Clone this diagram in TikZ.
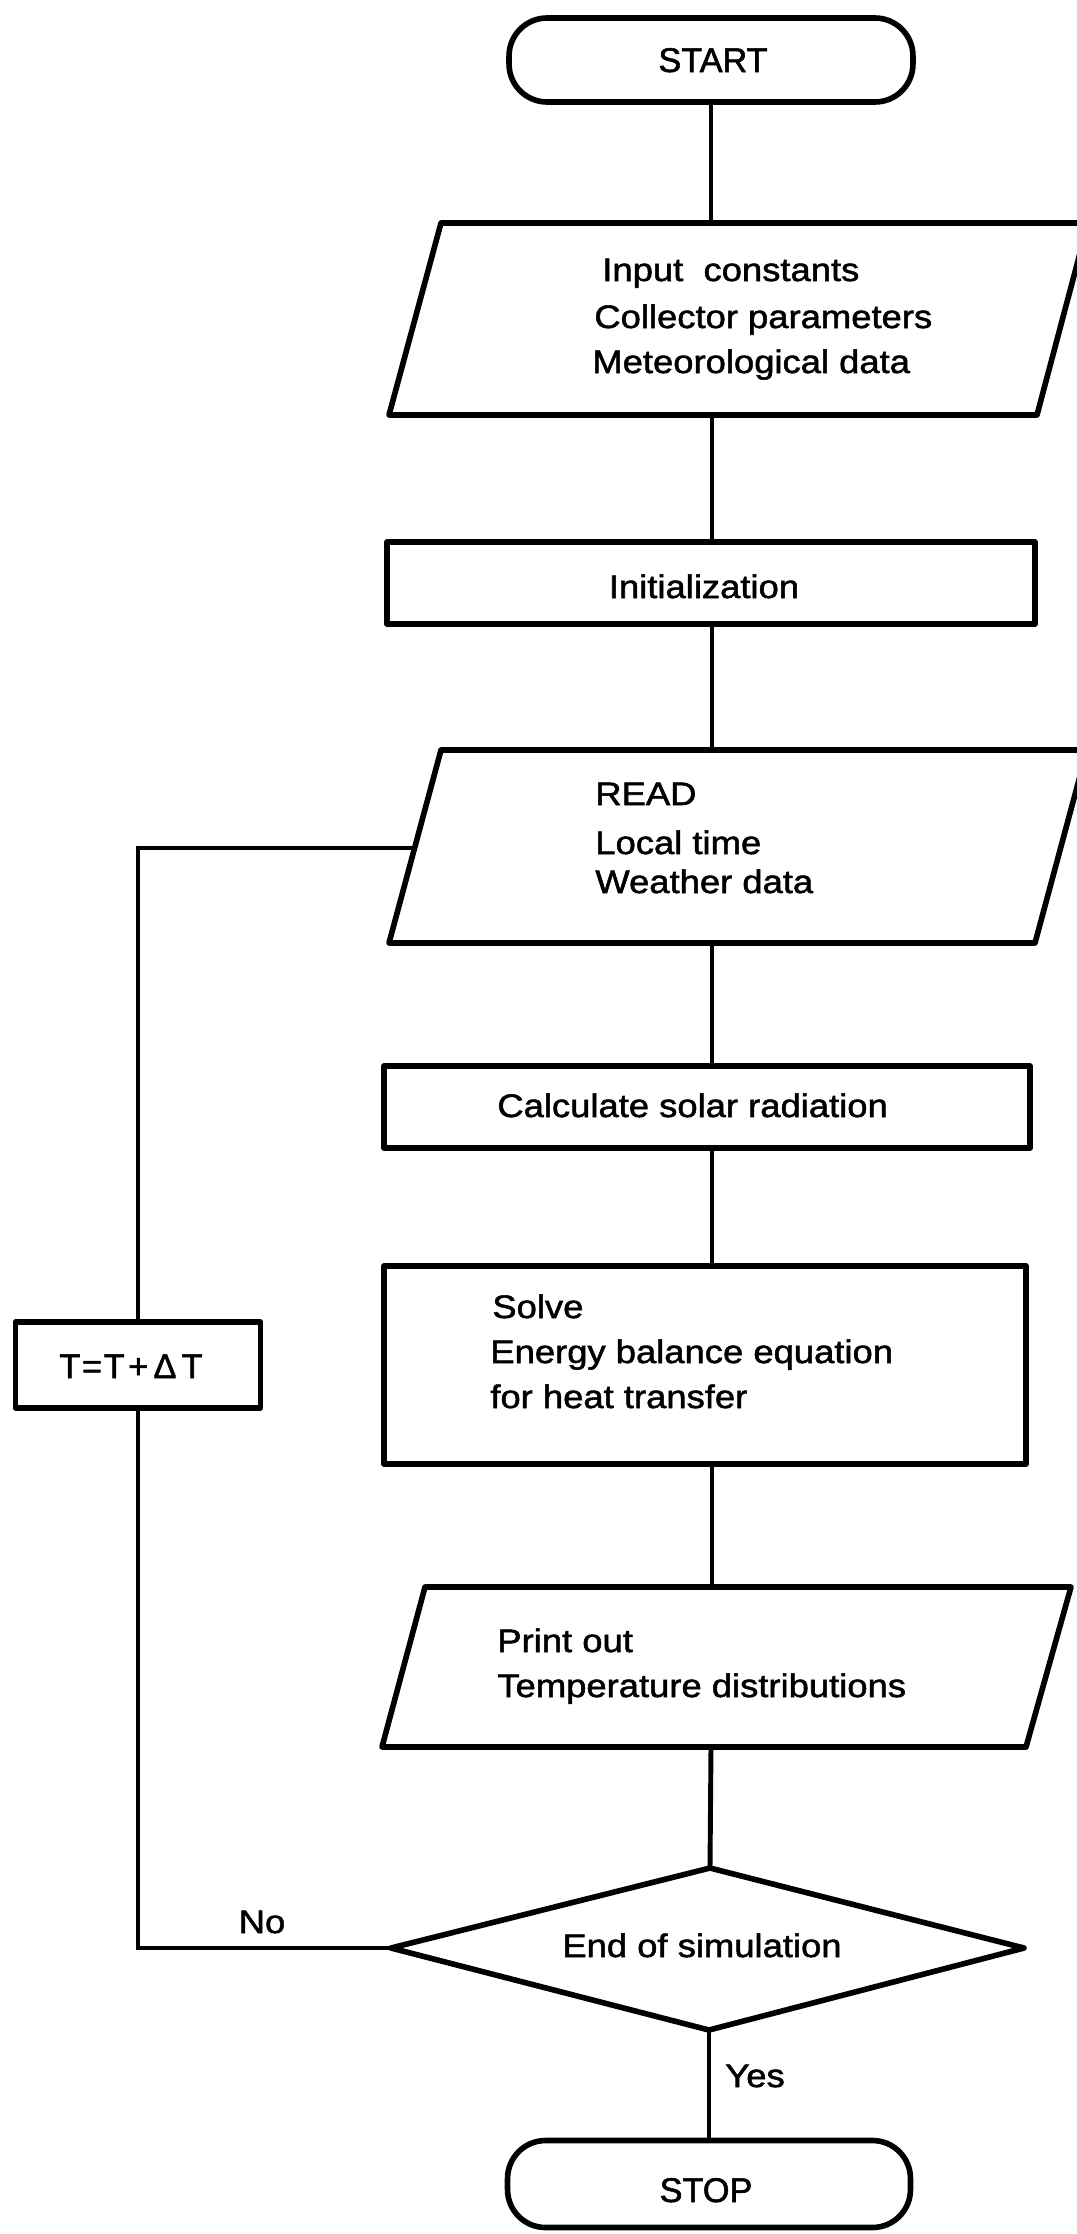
\documentclass[tikz,border=0pt]{standalone}
\usepackage{fontspec}
\setmainfont{Liberation Sans}[FakeStretch=1.12,FakeBold=1.6]
\newfontfamily\capsfont{Liberation Sans}[FakeBold=1.6]
\begin{document}
\begin{tikzpicture}[x=0.02cm,y=-0.02cm,
  shp/.style={draw, line width=3.2pt, line join=round},
  con/.style={draw, line width=2.8pt},
  lbl/.style={inner sep=0pt, font=\fontsize{18.5}{26}\selectfont, anchor=base west},
  clbl/.style={inner sep=0pt, font=\fontsize{18.5}{26}\selectfont, anchor=base},
  capl/.style={inner sep=0pt, font=\capsfont\fontsize{19.5}{26}\selectfont, anchor=base},
  box/.style={shp, rectangle, inner sep=0pt}]
\useasboundingbox (0,0) rectangle (1077,2234);
\clip (0,0) rectangle (1077,2234);
\fill[white] (0,0) rectangle (1077,2234);

% START
\node[box, rounded corners=0.76cm, minimum width=8.08cm, minimum height=1.68cm] (start) at (711,60) {};
\node[capl] (tstart) at (713,72) {START};

% Input parallelogram
\coordinate (inTL) at (441,223); \coordinate (inTR) at (1088,223);
\coordinate (inBR) at (1037,415); \coordinate (inBL) at (389,415);
\coordinate (inT) at (712,223); \coordinate (inB) at (712,415);
\draw[shp] (inTL) -- (inTR) -- (inBR) -- (inBL) -- cycle;
\node[lbl] (t1a) at (602,281) {Input\ \ constants};
\node[lbl] (t1b) at (594,328) {Collector parameters};
\node[lbl] (t1c) at (592,373) {Meteorological data};

% Initialization
\node[box, minimum width=12.96cm, minimum height=1.64cm] (init) at (711,583) {};
\node[clbl] (tinit) at (704,598) {Initialization};

% READ parallelogram
\coordinate (rdTL) at (441,750); \coordinate (rdTR) at (1087,750);
\coordinate (rdBR) at (1035,943); \coordinate (rdBL) at (389,943);
\coordinate (rdT) at (712,750); \coordinate (rdB) at (712,943);
\coordinate (rdL) at (414.6,848);
\draw[shp] (rdTL) -- (rdTR) -- (rdBR) -- (rdBL) -- cycle;
\node[lbl] (t2a) at (595,805) {READ};
\node[lbl] (t2b) at (595,854) {Local time};
\node[lbl] (t2c) at (595,893) {Weather data};

% Calculate
\node[box, minimum width=12.92cm, minimum height=1.64cm] (calc) at (707,1107) {};
\node[lbl] (tcalc) at (497,1117) {Calculate solar radiation};

% Solve
\node[box, minimum width=12.84cm, minimum height=3.96cm] (solve) at (705,1365) {};
\node[lbl] (t3a) at (492,1318) {Solve};
\node[lbl] (t3b) at (490,1363) {Energy balance equation};
\node[lbl] (t3c) at (490,1408) {for heat transfer};

% Print parallelogram
\coordinate (prTL) at (425,1587); \coordinate (prTR) at (1071,1587);
\coordinate (prBR) at (1026,1747); \coordinate (prBL) at (382,1747);
\coordinate (prT) at (712,1587); \coordinate (prB) at (711,1747);
\draw[shp] (prTL) -- (prTR) -- (prBR) -- (prBL) -- cycle;
\node[lbl] (t4a) at (497,1652) {Print out};
\node[lbl] (t4b) at (497,1697) {Temperature distributions};

% Decision diamond
\coordinate (dL) at (391,1948); \coordinate (dT) at (710,1868);
\coordinate (dR) at (1024,1948); \coordinate (dB) at (709,2030);
\draw[shp] (dL) -- (dT) -- (dR) -- (dB) -- cycle;
\node[clbl] (tdec) at (702,1957) {End of simulation};

% STOP
\node[box, rounded corners=0.76cm, minimum width=8.06cm, minimum height=1.74cm] (stop) at (709,2184) {};
\node[capl] (tstop) at (706,2202) {STOP};

% T = T + dT box
\node[box, minimum width=4.9cm, minimum height=1.72cm] (tbox) at (138,1365) {};
\node[capl] (ttbox) at (131,1378) {T\kern1pt=\kern1pt T\kern2pt+\kern3pt Δ\kern3pt T};

% connectors
\draw[con] (start.south) -- (start.south |- inT);
\draw[con] (inB) -- (inB |- init.north);
\draw[con] (inB |- init.south) -- (rdT);
\draw[con] (rdB) -- (rdB |- calc.north);
\draw[con] (rdB |- calc.south) -- (rdB |- solve.north);
\draw[con] (rdB |- solve.south) -- (prT);
\draw[con] (prB) -- (dT);
\draw[con] (dB) -- (stop.north);
\coordinate (fbB) at (138,1948);
\coordinate (fbT) at (138,848);
\draw[con] (dL) -- (fbB) -- (tbox.south);
\draw[con] (tbox.north) -- (fbT) -- (rdL);

% branch labels
\node[clbl] (lno) at (262,1933) {No};
\node[clbl] (lyes) at (755,2087) {Yes};
\end{tikzpicture}
\end{document}
